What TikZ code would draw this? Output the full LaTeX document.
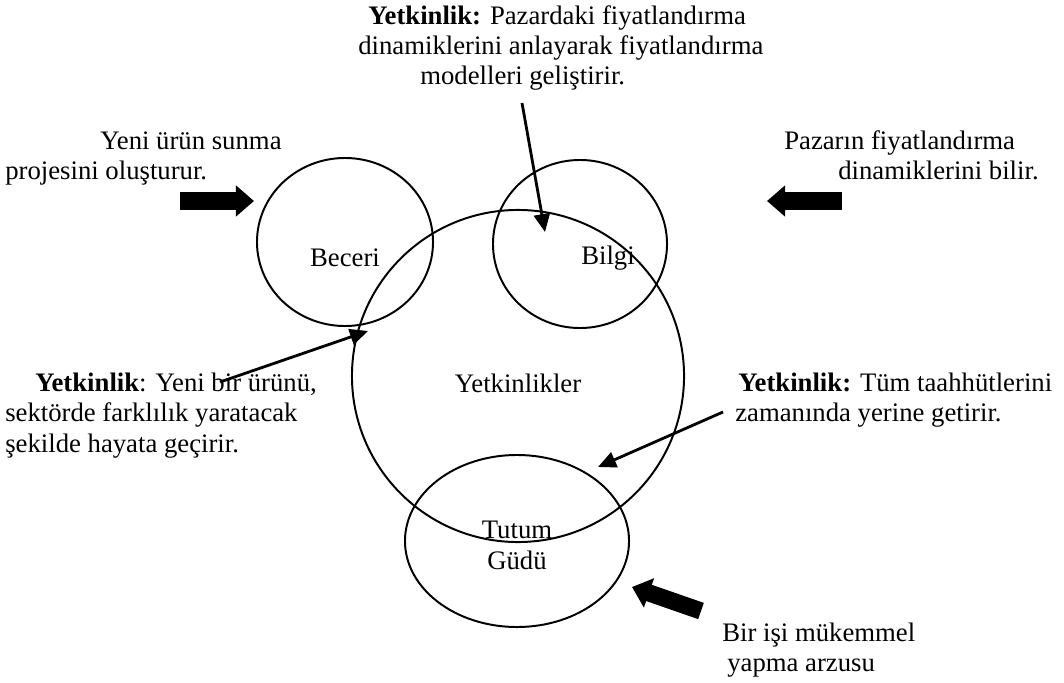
\documentclass[tikz,border=0pt]{standalone}
\usepackage{fontspec}
\setmainfont{Liberation Serif}
\usetikzlibrary{shapes.geometric,arrows.meta}

\begin{document}
\begin{tikzpicture}[x=0.025cm, y=-0.025cm,
  every node/.style={font=\fontsize{19}{30}\selectfont},
  txt/.style={anchor=base west, inner sep=0pt},
  ring/.style={ellipse, draw, line width=1.4pt, inner sep=0pt},
  fat/.style={line width=0.43cm, -{Triangle[length=0.45cm, width=0.75cm]}},
  thin/.style={line width=2pt, -{Triangle[length=0.45cm, width=0.4cm]}}]
  \useasboundingbox (0,0) rectangle (1064,683);
  % circles
  \node (beceri) [ring, minimum width=4.4cm, minimum height=4.2cm] at (345,242) {};
  \node (bilgi) [ring, minimum width=4.35cm, minimum height=4.2cm] at (580,244) {};
  \node (yetk) [ring, minimum width=8.3cm, minimum height=8.3cm] at (518,376) {};
  \node (tutum) [ring, minimum width=5.6cm, minimum height=4.3cm] at (517,541) {};
  \node (lbeceri) at (345,258) {Beceri};
  \node (lbilgi) at (608,258) {Bilgi};
  \node (lyetk) at (518,383) {Yetkinlikler};
  \node (ltutum) at (517,530) {Tutum};
  \node (lgudu) at (517,560) {Güdü};
  % texts
  \node (top1) [txt] at (368,25) {\textbf{Yetkinlik:} Pazardaki fiyatlandırma};
  \node (top2) [txt] at (358,55) {dinamiklerini anlayarak fiyatlandırma};
  \node (top3) [txt] at (420,85) {modelleri geliştirir.};
  \node (sol1) [txt] at (100,149) {Yeni ürün sunma};
  \node (sol2) [txt] at (5,179) {projesini oluşturur.};
  \node (sag1) [txt] at (784,149) {Pazarın fiyatlandırma};
  \node (sag2) [txt] at (838,179) {dinamiklerini bilir.};
  \node (ys1) [txt] at (35,391) {\textbf{Yetkinlik}: Yeni bir ürünü,};
  \node (ys2) [txt] at (5,421) {sektörde farklılık yaratacak};
  \node (ys3) [txt] at (5,452) {şekilde hayata geçirir.};
  \node (yr1) [txt] at (738,391) {\textbf{Yetkinlik:} Tüm taahhütlerini};
  \node (yr2) [txt] at (735,421) {zamanında yerine getirir.};
  \node (alt1) [txt] at (722,641) {Bir işi mükemmel};
  \node (alt2) [txt] at (727,671) {yapma arzusu};
  % fat arrows
  \coordinate (f1) at (180,201);
  \coordinate (g1) at (254,201);
  \coordinate (f2) at (842,201);
  \coordinate (g2) at (767,201);
  \coordinate (f3) at (701,611);
  \coordinate (g3) at (632,587);
  \draw [fat] (f1) -- (g1);
  \draw [fat] (f2) -- (g2);
  \draw [fat] (f3) -- (g3);
  % thin arrows
  \coordinate (a1) at (522,103);
  \coordinate (b1) at (545,232);
  \coordinate (a2) at (220,382);
  \coordinate (b2) at (368,331);
  \coordinate (a3) at (723,412);
  \coordinate (b3) at (598,467);
  \draw [thin] (a1) -- (b1);
  \draw [thin] (a2) -- (b2);
  \draw [thin] (a3) -- (b3);
\end{tikzpicture}
\end{document}
